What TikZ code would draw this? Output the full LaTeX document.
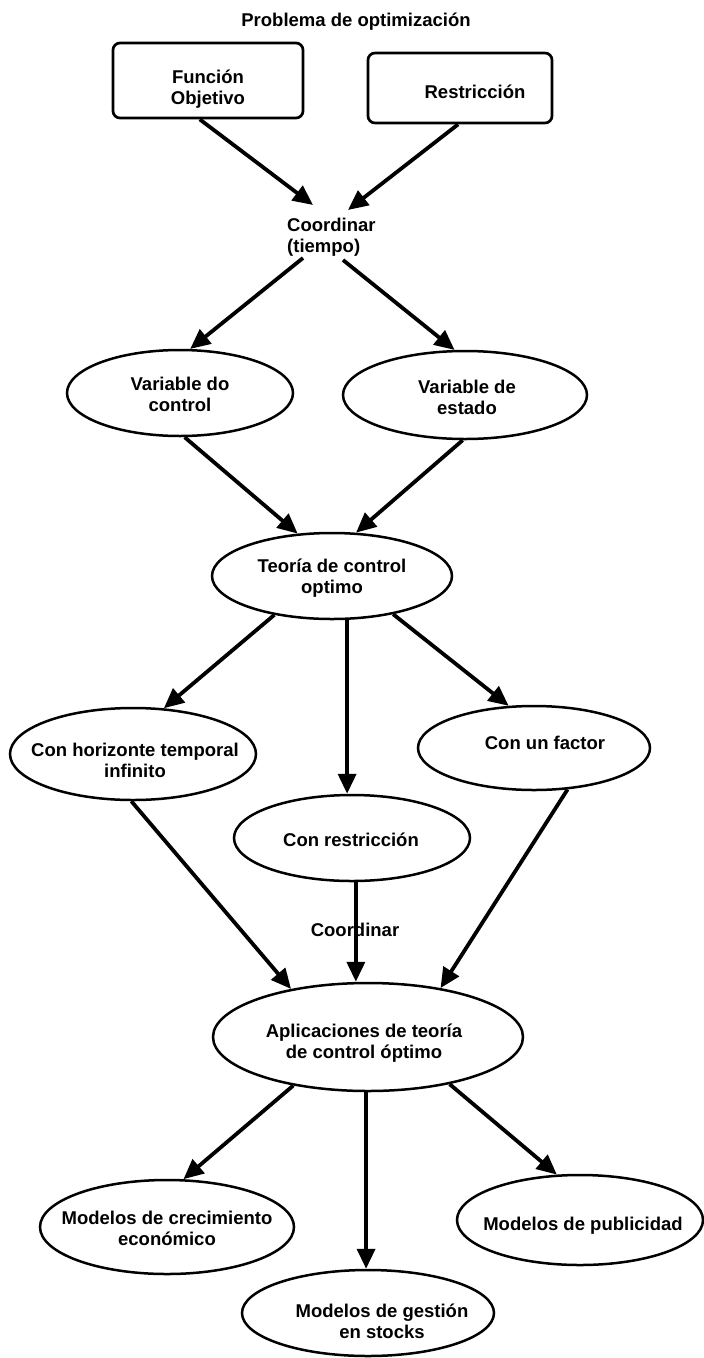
\documentclass[tikz,border=0pt]{standalone}
\usepackage{fontspec}
\setmainfont{Liberation Sans}
\usetikzlibrary{arrows.meta,shapes.geometric,calc}
\begin{document}
\begin{tikzpicture}[x=1pt,y=-1pt,
  txt/.style={font=\bfseries\fontsize{18.5}{21}\selectfont, align=center, inner sep=0pt},
  ell/.style={draw, ellipse, line width=2.5pt, inner sep=0pt},
  box/.style={draw, rectangle, rounded corners=7pt, line width=2.7pt, inner sep=0pt},
  arr/.style={line width=3.8pt, -{Triangle[length=20pt,width=18pt]}}
]
\useasboundingbox (0,0) rectangle (704,1358);

% title
\node[txt] (title) at (356,22) {Problema de optimización};

% boxes
\node[box, minimum width=190pt, minimum height=75pt] (fo) at (208,80.5) {};
\node[txt] (fo-t) at (208,89) {Función\\Objetivo};
\node[box, minimum width=184pt, minimum height=70pt] (re) at (460,88) {};
\node[txt] (re-t) at (475,92) {Restricción};

% coordinar (tiempo)
\node[txt, anchor=west, align=left] (co) at (287,237) {Coordinar\\(tiempo)};
\coordinate (co-in1) at (313,205);
\coordinate (co-in2) at (348,210);
\coordinate (co-out1) at (303,258);
\coordinate (co-out2) at (343,260);

% ellipses
\node[ell, minimum width=226pt, minimum height=86pt] (vc) at (180,393) {};
\node[txt] (vc-t) at (180,394) {Variable do\\control};
\node[ell, minimum width=244pt, minimum height=88pt] (ve) at (465,395) {};
\node[txt] (ve-t) at (467,397) {Variable de\\estado};
\node[ell, minimum width=240pt, minimum height=86pt] (teo) at (332,576) {};
\node[txt] (teo-t) at (332,578) {Teoría de control\\optimo};
\node[ell, minimum width=246pt, minimum height=92pt] (ch) at (133,754) {};
\node[txt] (ch-t) at (135,760) {Con horizonte temporal\\infinito};
\node[ell, minimum width=232pt, minimum height=84pt] (cf) at (534,748) {};
\node[txt] (cf-t) at (545,743) {Con un factor};
\node[ell, minimum width=236pt, minimum height=86pt] (cr) at (352,838) {};
\node[txt] (cr-t) at (351,840) {Con restricción};
\node[txt] (lbl) at (355,930) {Coordinar};
\node[ell, minimum width=310pt, minimum height=108pt] (ap) at (368,1037) {};
\node[txt] (ap-t) at (364,1043) {Aplicaciones de teoría\\de control óptimo};
\node[ell, minimum width=254pt, minimum height=94pt] (mc) at (167,1227) {};
\node[txt] (mc-t) at (167,1228) {Modelos de crecimiento\\económico};
\node[ell, minimum width=246pt, minimum height=90pt] (mp) at (580,1220) {};
\node[txt] (mp-t) at (583,1226) {Modelos de publicidad};
\node[ell, minimum width=252pt, minimum height=86pt] (mg) at (368,1313) {};
\node[txt] (mg-t) at (382,1321) {Modelos de gestión\\en stocks};

% arrows
\draw[arr] (fo.-102) -- (co-in1);
\draw[arr] (re.-93) -- (co-in2);
\draw[arr] (co-out1) -- (vc.77);
\draw[arr] (co-out2) -- (ve.103);
\draw[arr] (vc.-84) -- (teo.129);
\draw[arr] (ve.-93) -- (teo.61);
\draw[arr] (teo.-146) -- (ch.56);
\draw[arr] (teo.-71) -- (teo.-71 |- cr.north);
\draw[arr] (teo.-32) -- (cf.121);
\draw[arr] (ch.-92) -- (ap.148);
\draw[arr] (cr.-85) -- (cr.-85 |- ap.north);
\draw[arr] (cf.-51) -- (ap.34);
\draw[arr] (ap.-147) -- (mc.71);
\draw[arr] (ap.-92) -- (ap.-92 |- mg.north);
\draw[arr] (ap.-30) -- (mp.117);
\end{tikzpicture}
\end{document}
